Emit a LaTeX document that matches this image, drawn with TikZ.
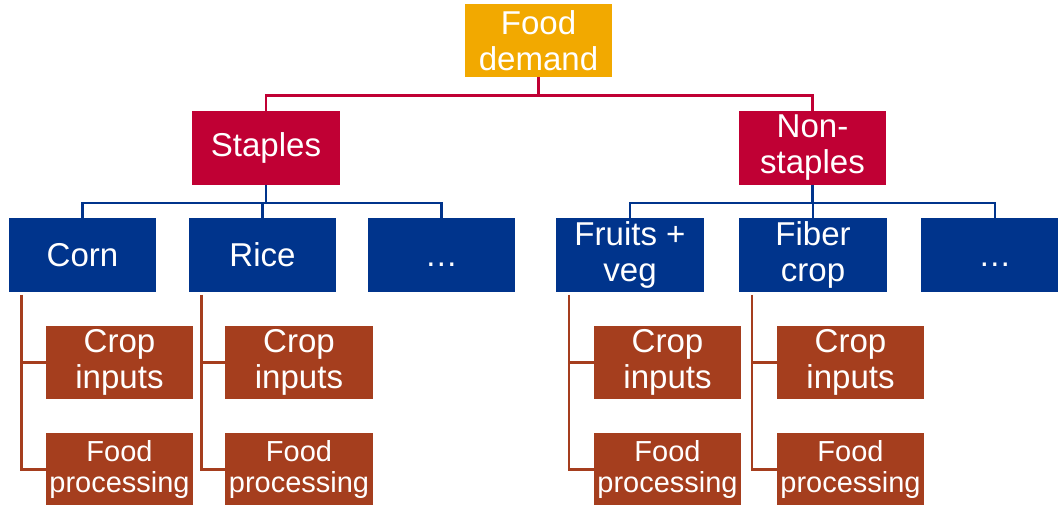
\documentclass[tikz,border=0pt]{standalone}
\usepackage{fontspec}
\setmainfont{Liberation Sans}
\usepackage{tikz}
\usetikzlibrary{positioning, calc}
\definecolor{demandorange}{RGB}{242, 169, 0}
\definecolor{stapred}{RGB}{192, 0, 52}
\definecolor{cropblue}{RGB}{0, 52, 140}
\definecolor{inputbrown}{RGB}{165, 62, 30}

\begin{document}
\begin{tikzpicture}[
        x=0.025cm, y=-0.025cm,
        font=\fontsize{23.5pt}{25.6pt}\selectfont,
        box/.style={minimum width=3.675cm, minimum height=1.825cm, inner xsep=1pt, inner ysep=0pt, align=center, text=white},
        topbox/.style={box, fill=demandorange},
        catbox/.style={box, fill=stapred},
        cropbox/.style={box, fill=cropblue},
        subbox/.style={box, fill=inputbrown},
        small/.style={font=\fontsize{20.6pt}{22pt}\selectfont},
        redline/.style={draw=stapred, line width=1.8pt},
        blueline/.style={draw=cropblue, line width=1.8pt},
        brownline/.style={draw=inputbrown, line width=1.8pt},
    ]
        \useasboundingbox (0,0) rectangle (1058,505);

        % Top: demand
        \node[topbox] (food) at (538.5, 40.5) {Food\\demand};

        % Second row: staples / non-staples
        \node[catbox] (staples)    at (266, 148)   {Staples};
        \node[catbox] (nonstaples) at (812.5, 148) {Non-\\staples};

        % Third row: crops
        \node[cropbox] (corn)   at (82.5, 255)  {Corn};
        \node[cropbox] (rice)   at (262.5, 255) {Rice};
        \node[cropbox] (moreA)  at (441.5, 255) {\vphantom{C}\ldots};
        \node[cropbox] (fruits) at (630, 255)   {Fruits +\\veg};
        \node[cropbox] (fiber)  at (813, 255)   {Fiber\\crop};
        \node[cropbox] (moreB)  at (995, 255)   {\vphantom{C}\ldots};

        % Bottom rows: inputs and processing under each crop
        \node[subbox] (cornCrop)   at (119.5, 362.5) {Crop\\inputs};
        \node[subbox] (riceCrop)   at (299, 362.5)   {Crop\\inputs};
        \node[subbox] (fruitsCrop) at (667.5, 362.5) {Crop\\inputs};
        \node[subbox] (fiberCrop)  at (850.5, 362.5) {Crop\\inputs};
        \node[subbox, small] (cornProc)   at (119.5, 469.5) {Food\\processing};
        \node[subbox, small] (riceProc)   at (299, 469.5)   {Food\\processing};
        \node[subbox, small] (fruitsProc) at (667.5, 469.5) {Food\\processing};
        \node[subbox, small] (fiberProc)  at (850.5, 469.5) {Food\\processing};

        % Demand -> staples / non-staples
        \coordinate (foodTee) at ($(food.south)+(0,18)$);
        \draw[redline] (food.south) -- (foodTee) -| (staples.north);
        \draw[redline] (foodTee) -| (nonstaples.north);

        % Staples -> crops
        \coordinate (stapTee) at ($(staples.south)+(0,18)$);
        \draw[blueline] (staples.south) -- (stapTee) -| (corn.north);
        \draw[blueline] (stapTee) -| (rice.north);
        \draw[blueline] (stapTee) -| (moreA.north);
        % Non-staples -> crops
        \coordinate (nonTee) at ($(nonstaples.south)+(0,18)$);
        \draw[blueline] (nonstaples.south) -- (nonTee) -| (fruits.north);
        \draw[blueline] (nonTee) -| (fiber.north);
        \draw[blueline] (nonTee) -| (moreB.north);

        % Crops -> inputs and processing, side rail
        \foreach \c in {corn, rice, fruits, fiber} {
            \coordinate (\c Rail) at ($(\c.south west)+(13,3)$);
            \draw[brownline] (\c Rail) |- (\c Crop.west);
            \draw[brownline] (\c Rail) |- (\c Proc.west);
        }
    \end{tikzpicture}
\end{document}
